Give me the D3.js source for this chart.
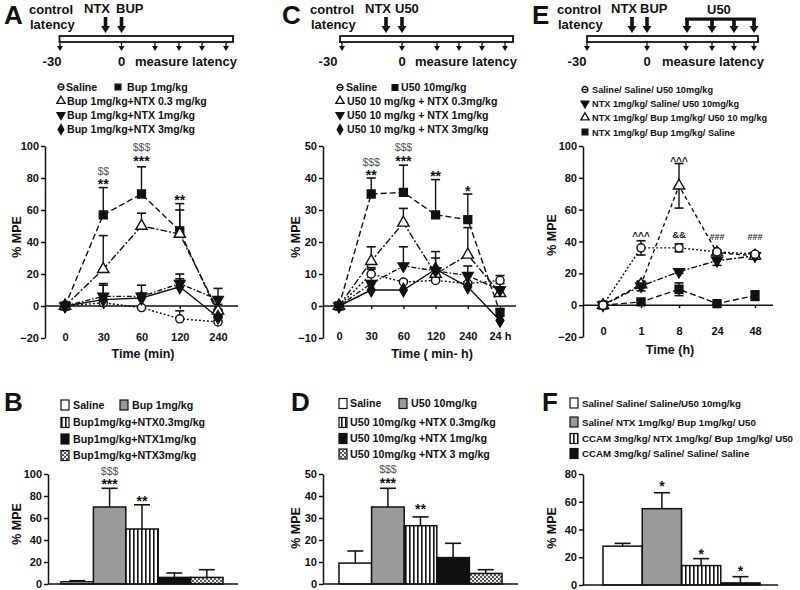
<!DOCTYPE html>
<html><head><meta charset="utf-8">
<script src="https://cdn.jsdelivr.net/npm/d3@7"></script>
<style>
body{margin:0;background:#fff}
text{font-family:"Liberation Sans",Arial,Helvetica,sans-serif;font-weight:bold;fill:#111}
</style>
</head><body>
<svg id="c" width="800" height="590"></svg>
<script>
// ================= DATA =================
// Panel A
const timeA = ["0","30","60","120","240"];
const legendA = ["Saline","Bup 1mg/kg","Bup 1mg/kg+NTX 0.3 mg/kg","Bup 1mg/kg+NTX 1mg/kg","Bup 1mg/kg+NTX 3mg/kg"];
const aSaline = [0, 2, -1, -8, -10];      const aSalineErr = [0, 2, 1, 5, 1];
const aBup    = [0, 57, 70, 47, -5];      const aBupErr    = [0, 17, 17, 13, 3];
const aNtx03  = [0, 23, 50, 45, -3];      const aNtx03Err  = [0, 21, 8, 19, 4];
const aNtx1   = [0, 6, 6, 14, 4];         const aNtx1Err   = [0, 8, 7, 6, 7];
const aNtx3   = [0, 4, 5, 12, -7];        const aNtx3Err   = [0, 9, 3, 5, 2];
const yTicksA = [-20, 0, 20, 40, 60, 80, 100];
const annA = [["30","**",73],["30","$$",82],["60","***",87.5],["60","$$$",97],["120","**",63]];

// Panel B
const legendB = ["Saline","Bup 1mg/kg","Bup1mg/kg+NTX0.3mg/kg","Bup1mg/kg+NTX1mg/kg","Bup1mg/kg+NTX3mg/kg"];
const bVals = [2, 70, 50, 6, 6];
const bErrs = [1, 17, 22, 4, 7];
const yTicksB = [0, 20, 40, 60, 80, 100];
const annB = [[1,"***",86],[1,"$$$",99],[2,"**",71]];

// Panel C
const timeC = ["0","30","60","120","240","24 h"];
const legendC = ["Saline","U50 10mg/kg","U50 10 mg/kg + NTX 0.3mg/kg","U50 10 mg/kg + NTX 1mg/kg","U50 10 mg/kg + NTX 3mg/kg"];
const cSaline = [0, 10, 7.5, 8, 7, 8];       const cSalineErr = [0, 2, 0.5, 0.5, 0.5, 1.5];
const cU50    = [0, 35, 35.5, 28.5, 27, -2]; const cU50Err    = [0, 5, 8.5, 11, 8, 1];
const cNtx03  = [0, 14, 26, 10, 16, 4];      const cNtx03Err  = [0, 4.5, 4.5, 5, 8.5, 2];
const cNtx1   = [0, 7, 12.5, 11, 9.5, 5];    const cNtx1Err   = [0, 4.5, 6, 6, 3, 2];
const cNtx3   = [0, 5, 5, 11.5, 6, -4.5];    const cNtx3Err   = [0, 0, 0, 0, 0, 0];
const yTicksC = [-10, 0, 10, 20, 30, 40, 50];
const annC = [["30","**",39.4],["30","$$$",43.8],["60","***",43.8],["60","$$$",48.3],["120","**",39],["240","*",34.4]];

// Panel D
const legendD = ["Saline","U50 10mg/kg","U50 10mg/kg +NTX 0.3mg/kg","U50 10mg/kg +NTX 1mg/kg","U50 10mg/kg +NTX 3 mg/kg"];
const dVals = [9.5, 35, 26.5, 12, 4.8];
const dErrs = [5.5, 8.5, 4, 6.5, 1.7];
const yTicksD = [0, 10, 20, 30, 40, 50];
const annD = [[1,"***",43.6],[1,"$$$",50.3],[2,"**",31.8]];

// Panel E
const timeE = ["0","1","8","24","48"];
const legendE = ["Saline/ Saline/ U50 10mg/kg","NTX 1mg/kg/ Saline/ U50 10mg/kg","NTX 1mg/kg/ Bup 1mg/kg/ U50 10 mg/kg","NTX 1mg/kg/ Bup 1mg/kg/ Saline"];
const eSalSalU50 = [0, 36, 36, 33.5, 32];  const eSalSalU50Err = [0, 4.5, 2.5, 1, 1];
const eNtxSalU50 = [0, 12, 21, 28, 31];    const eNtxSalU50Err = [0, 3, 1, 3, 2];
const eNtxBupU50 = [0, 13, 75, 33, 31];    const eNtxBupU50Err = [0, 2, 14, 1, 2];
const eNtxBupSal = [0, 2, 10, 1, 6];       const eNtxBupSalErr = [0, 1.5, 4, 0.5, 3];
const yTicksE = [-20, 0, 20, 40, 60, 80, 100];
const annE = [["1","^^^",41,"caret"],["8","^^^",88,"caret"],["8","&&",42,"amp"],["24","###",41,"hash"],["48","###",41,"hash"]];

// Panel F
const legendF = ["Saline/ Saline/ Saline/U50 10mg/kg","Saline/ NTX 1mg/kg/ Bup 1mg/kg/ U50","CCAM 3mg/kg/ NTX 1mg/kg/ Bup 1mg/kg/ U50","CCAM 3mg/kg/ Saline/ Saline/ Saline"];
const fVals = [28, 55, 14, 1.5];
const fErrs = [2, 11.5, 5, 4.5];
const yTicksF = [0, 20, 40, 60, 80];
const annF = [[1,"*",68],[2,"*",19],[3,"*",6.5]];

// ================= DRAWING =================
const svg = d3.select("#c");
const defs = svg.append("defs");
const st = defs.append("pattern").attr("id","stripes").attr("patternUnits","userSpaceOnUse").attr("width",4).attr("height",4);
st.append("rect").attr("width",4).attr("height",4).attr("fill","#fff");
st.append("rect").attr("x",1).attr("width",1.6).attr("height",4).attr("fill","#111");
const ck = defs.append("pattern").attr("id","checker").attr("patternUnits","userSpaceOnUse").attr("width",4).attr("height",4);
ck.append("rect").attr("width",4).attr("height",4).attr("fill","#eee");
ck.append("rect").attr("width",2).attr("height",2).attr("fill","#555");
ck.append("rect").attr("x",2).attr("y",2).attr("width",2).attr("height",2).attr("fill","#555");

const barFills = ["#fff","#9a9a9a","url(#stripes)","#111","url(#checker)"];

function txt(g, s, x, y, size, opts = {}) {
  const t = g.append("text").attr("x", x).attr("y", y).style("font-size", size + "px").text(s);
  if (opts.anchor) t.attr("text-anchor", opts.anchor);
  if (opts.weight) t.style("font-weight", opts.weight);
  if (opts.fill) t.style("fill", opts.fill);
  if (opts.rotate) t.attr("transform", `rotate(-90,${x},${y})`);
  return t;
}

function marker(g, type, cx, cy, k = 1) {
  const sym = {circle: d3.symbolCircle, square: d3.symbolSquare, triangle: d3.symbolTriangle,
               tridown: d3.symbolTriangle, diamond: d3.symbolDiamond}[type];
  const size = {circle: 52, square: 62, triangle: 56, tridown: 50, diamond: 52}[type];
  const open = (type === "circle" || type === "triangle");
  return g.append("path").attr("d", d3.symbol().type(sym).size(size)())
    .attr("transform", `translate(${cx},${cy}) scale(${k})` + (type === "tridown" ? " rotate(180)" : ""))
    .attr("fill", open ? "#fff" : "#111").attr("stroke", "#111").attr("stroke-width", 1.4 / k);
}

function styleAxis(sel) {
  sel.selectAll("path,line").attr("stroke", "#111").attr("stroke-width", 1.5);
  sel.selectAll("text").attr("font-family", null).style("font-size", "11px").style("font-weight", "bold").style("fill", "#111");
}

function thickArrow(g, ax, y0, y1) {
  g.append("rect").attr("x", ax - 1.8).attr("y", y0).attr("width", 3.6).attr("height", y1 - y0 - 6).attr("fill", "#111");
  g.append("path").attr("d", `M${ax - 4.5},${y1 - 7}L${ax + 4.5},${y1 - 7}L${ax},${y1}Z`).attr("fill", "#111");
}
function smallArrow(g, ax) {
  g.append("line").attr("x1", ax).attr("x2", ax).attr("y1", 42).attr("y2", 48).attr("stroke", "#111").attr("stroke-width", 1.3);
  g.append("path").attr("d", `M${ax - 3},${46}L${ax + 3},${46}L${ax},${51}Z`).attr("fill", "#111");
}

function schematic(o) {
  const g = svg.append("g");
  txt(g, o.letter, o.letterX, 24, 26);
  txt(g, "control", o.ctrlX, 14, 13);
  txt(g, "latency", o.ctrlX + 1, 29, 13);
  o.drugs.forEach(d => { txt(g, d[0], d[1], 13, 13); thickArrow(g, d[2], 17, 33); });
  g.append("rect").attr("x", o.barX0).attr("y", 36).attr("width", o.barX1 - o.barX0).attr("height", 6)
    .attr("fill", "#fff").attr("stroke", "#111").attr("stroke-width", 1.8);
  o.small.forEach(ax => smallArrow(g, ax));
  txt(g, "-30", o.m30X, 66, 13, {anchor: "middle"});
  txt(g, "0", o.small[1], 66, 13, {anchor: "middle"});
  txt(g, "measure latency", o.measX, 66, 13);
  if (o.bracket) {
    const b = o.bracket;
    txt(g, "U50", b.labelX, 14, 13);
    g.append("rect").attr("x", b.xs[0] - 1.8).attr("y", 17.5).attr("width", b.xs[b.xs.length - 1] - b.xs[0] + 3.6).attr("height", 3.2).attr("fill", "#111");
    b.xs.forEach(ax => thickArrow(g, ax, 18, 33));
  }
}

function lineLegend(o) {
  const g = svg.append("g");
  o.rows.forEach((r, i) => {
    r.forEach(item => {
      const [type, label, mx, tx] = item;
      const cy = o.ys[i];
      marker(g, type, mx, cy, 0.72);
      if (type === "circle") g.append("line").attr("x1", mx - 2.8).attr("x2", mx + 2.8).attr("y1", cy).attr("y2", cy).attr("stroke", "#111").attr("stroke-width", 1.2);
      txt(g, label, tx, cy + 3.8, o.size);
    });
  });
}

function barLegend(o) {
  const g = svg.append("g");
  o.rows.forEach((r, i) => {
    r.forEach(item => {
      const [fill, label, sx, tx] = item;
      const cy = o.ys[i];
      g.append("rect").attr("x", sx).attr("y", cy - 5).attr("width", 8).attr("height", 10)
        .attr("fill", fill).attr("stroke", "#111").attr("stroke-width", 1.2);
      txt(g, label, tx, cy + 3.8, o.size);
    });
  });
}

function annoStyle(kind) {
  if (kind === "$") return {size: 10.5, weight: "normal", fill: "#555"};
  if (kind === "caret") return {size: 10, weight: "bold", fill: "#222"};
  if (kind === "amp") return {size: 9.5, weight: "bold", fill: "#222"};
  if (kind === "hash") return {size: 9, weight: "bold", fill: "#333"};
  return {size: 14, weight: "bold", fill: "#111"};
}

function linePanel(o) {
  const g = svg.append("g");
  const x = d3.scalePoint().domain(o.cats).range(o.xRange);
  const y = d3.scaleLinear().domain(o.yDomain).range(o.yRange);
  g.append("g").attr("transform", `translate(${o.axisX},0)`)
    .call(d3.axisLeft(y).tickValues(o.yTicks).tickSize(4).tickSizeOuter(0).tickPadding(2)).call(styleAxis);
  g.append("line").attr("x1", o.axisX).attr("x2", o.axisEnd).attr("y1", y(0)).attr("y2", y(0))
    .attr("stroke", "#111").attr("stroke-width", 1.5);
  const xg = g.append("g").attr("transform", `translate(0,${y(0)})`)
    .call(d3.axisBottom(x).tickSize(3).tickSizeOuter(0)).call(styleAxis);
  xg.select(".domain").remove();
  xg.selectAll("text").attr("y", o.tickBase - y(0)).attr("dy", 0);
  txt(g, o.xTitle, o.xTitleX, o.xTitleY, 12.5, {anchor: "middle"});
  txt(g, "% MPE", o.yTitleX, o.yTitleY, 12.5, {anchor: "middle", rotate: true});

  const lines = g.append("g"), errs = g.append("g"), marks = g.append("g");
  o.series.forEach(s => {
    lines.append("path").attr("d", d3.line().x((d, i) => x(o.cats[i])).y(d => y(d))(s.values))
      .attr("fill", "none").attr("stroke", "#111").attr("stroke-width", 1.4).attr("stroke-dasharray", s.dash);
    s.values.forEach((v, i) => {
      const e = s.errs[i];
      if (!e) return;
      const cx = x(o.cats[i]);
      const top = y(v + e), bot = o.both ? y(v - e) : y(v);
      errs.append("line").attr("x1", cx).attr("x2", cx).attr("y1", top).attr("y2", bot).attr("stroke", "#111").attr("stroke-width", 1.4);
      errs.append("line").attr("x1", cx - 4.5).attr("x2", cx + 4.5).attr("y1", top).attr("y2", top).attr("stroke", "#111").attr("stroke-width", 1.6);
      if (o.both) errs.append("line").attr("x1", cx - 4.5).attr("x2", cx + 4.5).attr("y1", bot).attr("y2", bot).attr("stroke", "#111").attr("stroke-width", 1.6);
    });
  });
  o.series.forEach(s => s.values.forEach((v, i) => marker(marks, s.type, x(o.cats[i]), y(v))));
  o.ann.forEach(a => {
    const kind = a[3] || (a[1].startsWith("$") ? "$" : "*");
    const stl = annoStyle(kind);
    txt(g, a[1], x(a[0]), y(a[2]), stl.size, {anchor: "middle", weight: stl.weight, fill: stl.fill});
  });
}

function barPanel(o) {
  const g = svg.append("g");
  const x = d3.scaleBand().domain(o.labels).range(o.xRange).padding(0);
  const y = d3.scaleLinear().domain(o.yDomain).range(o.yRange);
  o.vals.forEach((v, i) => {
    const bx = x(o.labels[i]), w = x.bandwidth();
    const cx = bx + w / 2, top = y(v + o.errs[i]);
    g.append("line").attr("x1", cx).attr("x2", cx).attr("y1", top).attr("y2", y(v)).attr("stroke", "#111").attr("stroke-width", 1.5);
    g.append("line").attr("x1", cx - 8).attr("x2", cx + 8).attr("y1", top).attr("y2", top).attr("stroke", "#111").attr("stroke-width", 1.6);
    g.append("rect").attr("x", bx).attr("y", y(v)).attr("width", w).attr("height", y(0) - y(v))
      .attr("fill", barFills[i]).attr("stroke", "#111").attr("stroke-width", 1.5);
  });
  g.append("g").attr("transform", `translate(${o.axisX},0)`)
    .call(d3.axisLeft(y).tickValues(o.yTicks).tickSize(4).tickSizeOuter(0).tickPadding(2)).call(styleAxis);
  g.append("line").attr("x1", o.axisX).attr("x2", o.axisEnd).attr("y1", y(0)).attr("y2", y(0))
    .attr("stroke", "#111").attr("stroke-width", 1.5);
  txt(g, "% MPE", o.yTitleX, o.yTitleY, 12.5, {anchor: "middle", rotate: true});
  o.ann.forEach(a => {
    const kind = a[1].startsWith("$") ? "$" : "*";
    const stl = annoStyle(kind);
    const w = x.bandwidth();
    txt(g, a[1], x(o.labels[a[0]]) + w / 2, y(a[2]), stl.size, {anchor: "middle", weight: stl.weight, fill: stl.fill});
  });
}

// ---------- Schematics ----------
schematic({letter: "A", letterX: 4, ctrlX: 29, drugs: [["NTX", 84, 105.5], ["BUP", 116, 121.5]],
  barX0: 59.5, barX1: 233, small: [60, 121.5, 155, 179, 202, 226], m30X: 52, measX: 135});
schematic({letter: "C", letterX: 282, ctrlX: 310, drugs: [["NTX", 365, 386], ["U50", 395, 402]],
  barX0: 340, barX1: 513, small: [342, 402, 437, 459, 482, 505], m30X: 328, measX: 415});
schematic({letter: "E", letterX: 532, ctrlX: 557, drugs: [["NTX", 611, 632], ["BUP", 640, 647]],
  barX0: 587, barX1: 758, small: [587, 647, 686, 712, 734, 754], m30X: 577, measX: 662,
  bracket: {labelX: 707, xs: [687, 712, 734, 754]}});

// ---------- Line legends ----------
lineLegend({size: 10.6, ys: [87, 101, 115, 129.5], rows: [
  [["circle", legendA[0], 61, 66], ["square", legendA[1], 118, 127]],
  [["triangle", legendA[2], 61, 67]], [["tridown", legendA[3], 61, 67]], [["diamond", legendA[4], 61, 67]]]});
lineLegend({size: 10.6, ys: [87.5, 101, 115, 129.5], rows: [
  [["circle", legendC[0], 340, 346], ["square", legendC[1], 395, 401]],
  [["triangle", legendC[2], 340, 347]], [["tridown", legendC[3], 340, 347]], [["diamond", legendC[4], 340, 347]]]});
lineLegend({size: 9.2, ys: [89.5, 103.5, 117.5, 132], rows: [
  [["circle", legendE[0], 585, 592]], [["tridown", legendE[1], 585, 592]],
  [["triangle", legendE[2], 585, 592]], [["square", legendE[3], 585, 592]]]});

// ---------- Line panels ----------
linePanel({cats: timeA, xRange: [65, 218], yDomain: [-20, 100], yRange: [338, 146], yTicks: yTicksA,
  axisX: 45, axisEnd: 238, tickBase: 341, xTitle: "Time (min)", xTitleX: 143, xTitleY: 358, yTitleX: 21, yTitleY: 237,
  series: [
    {values: aSaline, errs: aSalineErr, type: "circle", dash: "2,2"},
    {values: aBup, errs: aBupErr, type: "square", dash: "6,3"},
    {values: aNtx03, errs: aNtx03Err, type: "triangle", dash: "7,2,2,2"},
    {values: aNtx1, errs: aNtx1Err, type: "tridown", dash: "5,2,1.5,2"},
    {values: aNtx3, errs: aNtx3Err, type: "diamond", dash: null}], ann: annA});
linePanel({cats: timeC, xRange: [339, 500], yDomain: [-10, 50], yRange: [338, 146], yTicks: yTicksC,
  axisX: 323, axisEnd: 516, tickBase: 340, xTitle: "Time ( min- h)", xTitleX: 432, xTitleY: 358, yTitleX: 300, yTitleY: 237,
  series: [
    {values: cSaline, errs: cSalineErr, type: "circle", dash: "2,2"},
    {values: cU50, errs: cU50Err, type: "square", dash: "6,3"},
    {values: cNtx03, errs: cNtx03Err, type: "triangle", dash: "7,2,2,2"},
    {values: cNtx1, errs: cNtx1Err, type: "tridown", dash: "5,2,1.5,2"},
    {values: cNtx3, errs: cNtx3Err, type: "diamond", dash: null}], ann: annC});
linePanel({cats: timeE, xRange: [603, 755], yDomain: [-20, 100], yRange: [337, 146], yTicks: yTicksE,
  axisX: 583, axisEnd: 773, tickBase: 335, xTitle: "Time (h)", xTitleX: 670, xTitleY: 354, yTitleX: 556, yTitleY: 235, both: true,
  series: [
    {values: eNtxBupSal, errs: eNtxBupSalErr, type: "square", dash: "6,3"},
    {values: eNtxBupU50, errs: eNtxBupU50Err, type: "triangle", dash: "4,3"},
    {values: eNtxSalU50, errs: eNtxSalU50Err, type: "tridown", dash: "6,2,2,2"},
    {values: eSalSalU50, errs: eSalSalU50Err, type: "circle", dash: "2,2"}], ann: annE});

// ---------- Bar panels ----------
txt(svg, "B", 4, 411, 26);
txt(svg, "D", 291, 411, 26);
txt(svg, "F", 542, 411, 26);
barLegend({size: 10.7, ys: [405, 422.5, 439, 455.5], rows: [
  [[barFills[0], legendB[0], 61, 73], [barFills[1], legendB[1], 120, 132]],
  [[barFills[2], legendB[2], 61, 73]], [[barFills[3], legendB[3], 61, 73]], [[barFills[4], legendB[4], 61, 73]]]});
barLegend({size: 10.7, ys: [403.5, 422.5, 438.5, 454], rows: [
  [[barFills[0], legendD[0], 339, 350], [barFills[1], legendD[1], 399, 411]],
  [[barFills[2], legendD[2], 339, 350]], [[barFills[3], legendD[3], 339, 350]], [[barFills[4], legendD[4], 339, 350]]]});
barLegend({size: 9.7, ys: [403, 422, 438.5, 453.5], rows: [
  [[barFills[0], legendF[0], 570, 582]], [[barFills[1], legendF[1], 570, 582]],
  [[barFills[2], legendF[2], 570, 582]], [[barFills[3], legendF[3], 570, 582]]]});

barPanel({labels: legendB, vals: bVals, errs: bErrs, xRange: [61, 223], yDomain: [0, 100], yRange: [584, 474], yTicks: yTicksB,
  axisX: 48, axisEnd: 238, yTitleX: 21, yTitleY: 524, ann: annB});
barPanel({labels: legendD, vals: dVals, errs: dErrs, xRange: [339, 502], yDomain: [0, 50], yRange: [584, 474], yTicks: yTicksD,
  axisX: 323, axisEnd: 518, yTitleX: 300, yTitleY: 528, ann: annD});
barPanel({labels: legendF, vals: fVals, errs: fErrs, xRange: [603, 760], yDomain: [0, 80], yRange: [585, 474], yTicks: yTicksF,
  axisX: 583, axisEnd: 778, yTitleX: 556, yTitleY: 528, ann: annF});
</script>
</body></html>
